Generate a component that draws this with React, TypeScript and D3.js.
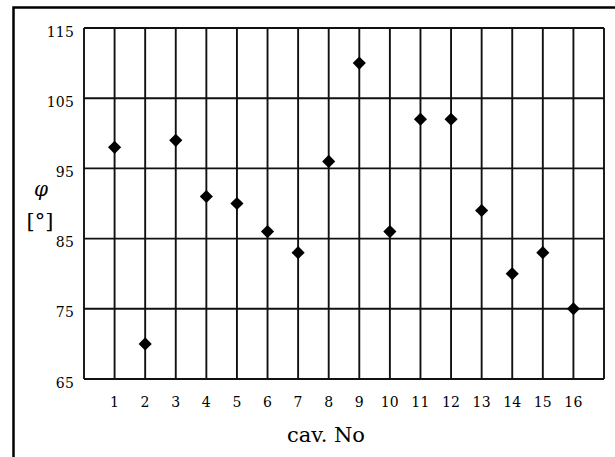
// App.tsx
import React, { useEffect, useRef } from 'react';
import * as d3 from 'd3';

// cavity numbers and measured angle per cavity
const cavities = [1, 2, 3, 4, 5, 6, 7, 8, 9, 10, 11, 12, 13, 14, 15, 16];
const phiValues = [98, 70, 99, 91, 90, 86, 83, 96, 110, 86, 102, 102, 89, 80, 83, 75];
const yTicks = [65, 75, 85, 95, 105, 115];

const W = 615;
const H = 457;

const App: React.FC = () => {
    const svgRef = useRef<SVGSVGElement | null>(null);

    useEffect(() => {
        drawChart();
    }, []);

    const drawChart = () => {
        const svg = d3.select(svgRef.current);
        svg.selectAll('*').remove();

        const left = 84, right = 604, top = 28, bottom = 379;

        const x = d3.scaleLinear().domain([0, 17]).range([left, right]);
        const y = d3.scaleLinear().domain([65, 115]).range([bottom, top]);

        // outer frame (only top and left edges are visible)
        svg.append('path')
            .attr('d', `M13.5,${H} V7.5 H${W}`)
            .attr('fill', 'none')
            .attr('stroke', '#000')
            .attr('stroke-width', 2.5);

        const grid = svg.append('g')
            .attr('stroke', '#111')
            .attr('stroke-width', 1.9);

        // horizontal grid lines
        grid.selectAll('.hline')
            .data(yTicks)
            .enter().append('line')
            .attr('x1', left)
            .attr('x2', right)
            .attr('y1', d => y(d))
            .attr('y2', d => y(d));

        // vertical grid lines, 0..17
        grid.selectAll('.vline')
            .data(d3.range(0, 18))
            .enter().append('line')
            .attr('x1', d => x(d))
            .attr('x2', d => x(d))
            .attr('y1', top)
            .attr('y2', bottom);

        const font = '"DejaVu Serif", serif';

        // y tick labels
        svg.append('g')
            .selectAll('text')
            .data(yTicks)
            .enter().append('text')
            .attr('x', 74)
            .attr('y', d => y(d) + 8.5)
            .attr('text-anchor', 'end')
            .attr('font-family', font)
            .attr('font-size', 14)
            .attr('letter-spacing', 0.2)
            .text(d => d);

        // x tick labels
        svg.append('g')
            .selectAll('text')
            .data(cavities)
            .enter().append('text')
            .attr('x', d => x(d))
            .attr('y', 407)
            .attr('text-anchor', 'middle')
            .attr('font-family', font)
            .attr('font-size', 14)
            .attr('letter-spacing', 0.2)
            .text(d => d);

        // axis titles
        svg.append('text')
            .attr('x', 326)
            .attr('y', 442)
            .attr('text-anchor', 'middle')
            .attr('font-family', font)
            .attr('font-size', 21)
            .text('cav. No');

        svg.append('text')
            .attr('x', 41)
            .attr('y', 196)
            .attr('text-anchor', 'middle')
            .attr('font-family', font)
            .attr('font-style', 'italic')
            .attr('font-size', 20)
            .text('φ');

        svg.append('text')
            .attr('x', 40)
            .attr('y', 228)
            .attr('text-anchor', 'middle')
            .attr('font-family', font)
            .attr('font-size', 21)
            .text('[°]');

        // diamond markers
        const diamond = d3.symbol().type(d3.symbolDiamond2).size(110);
        svg.append('g')
            .selectAll('path')
            .data(cavities)
            .enter().append('path')
            .attr('d', diamond)
            .attr('transform', (d, i) => `translate(${x(d)},${y(phiValues[i])})`)
            .attr('fill', '#000');
    };

    return (
        <svg
            ref={svgRef}
            width={W}
            height={H}
            style={{ position: 'absolute', left: 0, top: 0, background: '#fff' }}
        ></svg>
    );
};

export default App;
